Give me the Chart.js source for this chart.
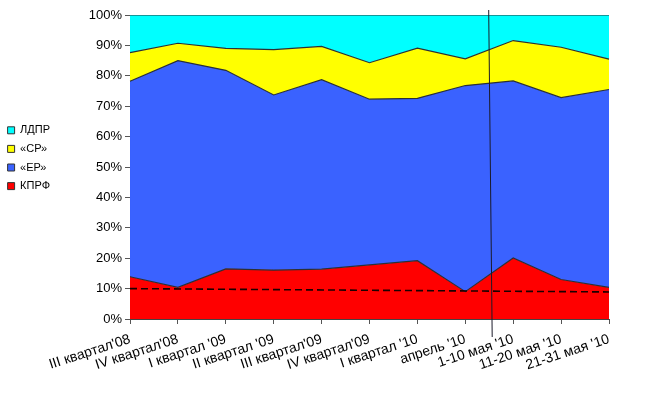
<!DOCTYPE html>
<html>
<head>
<meta charset="utf-8">
<script src="https://cdn.jsdelivr.net/npm/chart.js@4"></script>
<style>
  html, body { margin: 0; padding: 0; background: #fff; }
  #wrap { width: 649px; height: 397px; }
</style>
</head>
<body>
<div id="wrap"><canvas id="chart"></canvas></div>
<script>
const periods = ["III квартал'08", "IV квартал'08", "I квартал '09", "II квартал '09", "III квартал'09",
    "IV квартал'09", "I квартал '10", "апрель '10", "1-10 мая '10", "11-20 мая '10", "21-31 мая '10"];

// shares, %
const kprf = [13.9, 10.4, 16.5, 16.1, 16.4, 17.8, 19.2, 9.0, 20.1, 13.0, 10.4];
const er   = [64.3, 74.6, 65.3, 57.6, 62.3, 54.5, 53.4, 67.8, 58.2, 59.8, 65.1];
const sr   = [9.4, 5.7, 7.2, 14.9, 11.0, 12.0, 16.5, 8.8, 13.3, 16.6, 10.0];
const ldpr = [12.4, 9.3, 11.0, 11.4, 10.3, 15.7, 10.9, 14.4, 8.4, 10.6, 14.5];

// KPRF trend (only the ends are known)
const kprfTrend = [10.0, null, null, null, null, null, null, null, null, null, 8.9];

const yTicks = [0, 10, 20, 30, 40, 50, 60, 70, 80, 90, 100];

// vertical divider between "апрель '10" and "1-10 мая '10"
const dividerAt = 7.53;

const dividerPlugin = {
    id: "divider",
    afterDatasetsDraw(chart) {
        const ctx = chart.ctx;
        const x = chart.scales.x.getPixelForValue(dividerAt);
        ctx.save();
        ctx.strokeStyle = "#1a1a2a";
        ctx.lineWidth = 1;
        ctx.beginPath();
        ctx.moveTo(x - 2, chart.chartArea.top - 5);
        ctx.lineTo(x + 1.5, chart.chartArea.bottom + 18);
        ctx.stroke();
        ctx.restore();
    }
};

const area = (label, data, color, fill) => ({
    label: label,
    data: data,
    backgroundColor: color,
    borderColor: "#2b3035",
    borderWidth: 1.2,
    pointRadius: 0,
    fill: fill,
    tension: 0
});

new Chart(document.getElementById("chart"), {
    type: "line",
    data: {
        labels: periods,
        datasets: [
            area("КПРФ", kprf, "#ff0000", "origin"),
            area("«ЕР»", er, "#3a62ff", "-1"),
            area("«СР»", sr, "#ffff00", "-1"),
            area("ЛДПР", ldpr, "#00ffff", "-1"),
            {
                label: "trend",
                data: kprfTrend,
                yAxisID: "y2",
                borderColor: "#1a0000",
                borderWidth: 1.6,
                borderDash: [7, 4],
                pointRadius: 0,
                fill: false,
                spanGaps: true,
                order: -1
            }
        ]
    },
    options: {
        responsive: true,
        maintainAspectRatio: false,
        animation: false,
        layout: { padding: { top: 15, right: 40, bottom: 0, left: 0 } },
        plugins: {
            tooltip: { enabled: false },
            legend: {
                position: "left",
                align: "start",
                reverse: true,
                title: { display: true, text: " ", font: { size: 11 }, padding: { top: 89, bottom: 0 } },
                labels: {
                    filter: item => item.text !== "trend",
                    boxWidth: 7,
                    boxHeight: 7,
                    padding: 7.6,
                    color: "#000",
                    font: { family: "'Liberation Sans', Arial, sans-serif", size: 11 },
                    generateLabels: chart => chart.data.datasets.map((ds, i) => ({
                        text: ds.label,
                        fillStyle: ds.backgroundColor,
                        strokeStyle: "#333",
                        lineWidth: 1,
                        datasetIndex: i,
                        fontColor: "#000"
                    }))
                }
            }
        },
        scales: {
            x: {
                grid: { display: true, drawOnChartArea: false, drawTicks: true, tickLength: 5, color: "#555" },
                border: { color: "#444" },
                ticks: {
                    autoSkip: false,
                    minRotation: 18,
                    maxRotation: 18,
                    padding: 7,
                    color: "#000",
                    font: { family: "'Liberation Sans', Arial, sans-serif", size: 14 }
                },
                afterFit: scale => { scale.height = 78; }
            },
            y: {
                stacked: true,
                min: 0,
                max: 100,
                afterBuildTicks: scale => { scale.ticks = yTicks.map(v => ({ value: v })); },
                grid: { display: true, drawOnChartArea: false, drawTicks: true, tickLength: 5, color: "#555" },
                border: { color: "#3d4a4a" },
                ticks: {
                    callback: v => v + "%",
                    color: "#000",
                    font: { family: "'Liberation Sans', Arial, sans-serif", size: 13 }
                },
                afterFit: scale => { scale.width = 70; }
            },
            y2: {
                display: false,
                min: 0,
                max: 100
            }
        }
    },
    plugins: [dividerPlugin]
});
</script>
</body>
</html>
